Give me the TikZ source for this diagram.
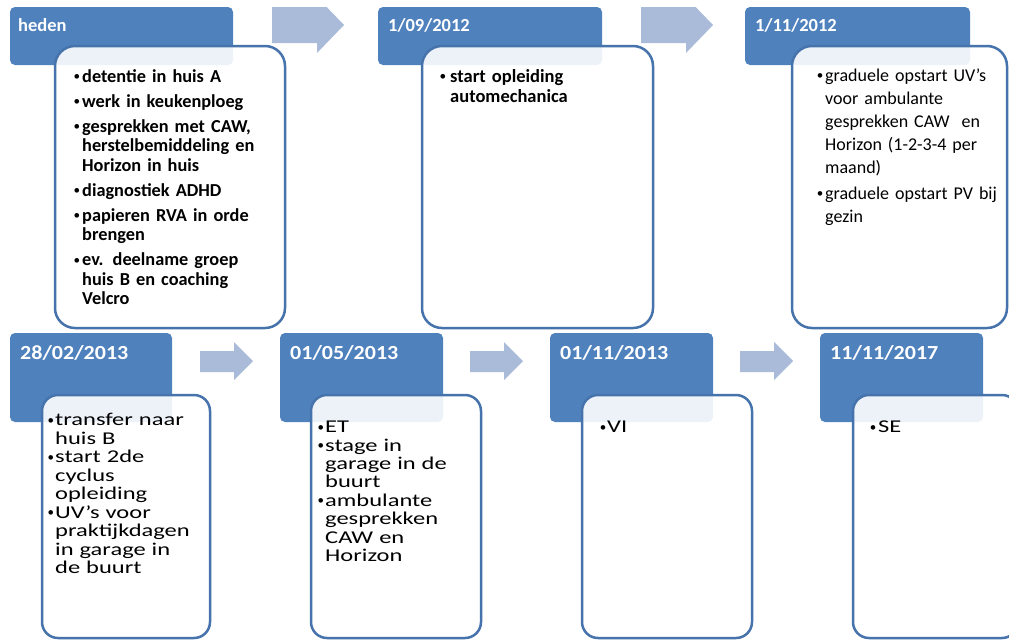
\documentclass[tikz,border=0pt]{standalone}
\usepackage{graphicx}
\usepackage{fontspec}
\setmainfont{Carlito}
\newfontfamily\wideB[FakeStretch=1.36]{Carlito}
\newfontfamily\wideH[FakeStretch=1.1]{Carlito}
\definecolor{hdr}{HTML}{4F81BD}
\definecolor{bdr}{HTML}{4673AB}
\definecolor{arr}{HTML}{A9BBD9}
\setlength\parskip{0pt}
\newlength\bgap
\newcommand\dotb{{\rmfamily\mdseries\raisebox{0.08em}{\scalebox{0.72}{•}}}}
\newcommand\bi{\par\noindent\llap{\dotb\hspace{\bgap}}\rule{0pt}{14pt}}
\begin{document}
\begin{tikzpicture}[x=1pt,y=-1pt,
  hdrbox/.style={fill=hdr, draw=none, rounded corners=5pt, inner sep=0pt},
  bodybox/.style={draw=bdr, line width=2.5pt, fill=white, fill opacity=0.9, draw opacity=1, inner sep=0pt},
  hdrtxt/.style={anchor=base west, inner sep=0pt, text=white},
  toptxt/.style={anchor=north west, inner sep=0pt, text width=230pt, align=left, text=black},
  blockarrow/.style={fill=arr, draw=none}]
\useasboundingbox (0,0) rectangle (1009,641);
\clip (0,0) rectangle (1009,641);
\fill[white] (0,0) rectangle (1009,641);

% ---------- top row ----------
\node[hdrbox, minimum width=223pt, minimum height=58pt] (h1) at (121.5,36) {};
\node[bodybox, rounded corners=20pt, minimum width=230pt, minimum height=282pt] (b1) at (170,187) {};
\node[hdrtxt, font=\fontsize{18.5}{20}\selectfont\bfseries] (h1t) at (18,31) {heden};
\node[toptxt, font=\fontsize{18.3}{19.5}\selectfont\bfseries] (t1) at (82,57)
 {\setlength\parskip{5.5pt}\setlength\bgap{2pt}%
  \bi detentie in huis A
  \bi werk in keukenploeg
  \bi gesprekken met CAW,\\ herstelbemiddeling en\\ Horizon in huis
  \bi diagnostiek ADHD
  \bi papieren RVA in orde\\ brengen
  \bi ev. deelname groep\\ huis B en coaching\\ Velcro};

\fill[blockarrow] (272,7) -- (326.6,7) -- (344,25) -- (317,53) -- (317,43) -- (272,43) -- cycle;

\node[hdrbox, minimum width=224pt, minimum height=58pt] (h2) at (490,36) {};
\node[bodybox, rounded corners=20pt, minimum width=231pt, minimum height=282pt] (b2) at (537.5,187) {};
\node[hdrtxt, font=\fontsize{18.5}{20}\selectfont\bfseries] (h2t) at (388,31) {1/09/2012};
\node[toptxt, font=\fontsize{18.5}{20}\selectfont\bfseries] (t2) at (450,62)
 {\setlength\bgap{4pt}%
  \bi start opleiding\\ automechanica};

\fill[blockarrow] (641,7) -- (695.6,7) -- (713,25) -- (686,53) -- (686,43) -- (641,43) -- cycle;

\node[hdrbox, minimum width=225pt, minimum height=58pt] (h3) at (857.5,36) {};
\node[bodybox, rounded corners=20pt, minimum width=215pt, minimum height=282pt] (b3) at (899.5,187) {};
\node[hdrtxt, font=\fontsize{18.5}{20}\selectfont\bfseries] (h3t) at (755,31) {1/11/2012};
\node[toptxt, font=\fontsize{18}{23}\selectfont] (t3) at (825,55)
 {\setlength\parskip{3pt}\setlength\bgap{2pt}%
  \bi graduele opstart UV’s\\ voor ambulante\\ gesprekken CAW\ \ en\\ Horizon (1-2-3-4 per\\ maand)
  \bi graduele opstart PV bij\\ gezin};

% ---------- bottom row ----------
\node[hdrbox, minimum width=162pt, minimum height=89pt] (h4) at (91,377.5) {};
\node[bodybox, rounded corners=16pt, minimum width=168pt, minimum height=243pt] (b4) at (126,516.5) {};
\node[hdrtxt, font=\wideH\fontsize{20}{22}\selectfont\bfseries] (h4t) at (20,359.5) {28/02/2013};
\node[toptxt, font=\wideB\fontsize{18}{18.5}\selectfont] (t4) at (55,407)
 {\setlength\bgap{1pt}%
  \bi transfer naar\\ huis B
  \bi start 2de\\ cyclus\\ opleiding
  \bi UV’s voor\\ praktijkdagen\\ in garage in\\ de buurt};

\fill[blockarrow] (200,351) -- (234,351) -- (234,342) -- (253,361) -- (234,380) -- (234,372) -- (200,372) -- cycle;

\node[hdrbox, minimum width=163pt, minimum height=89pt] (h5) at (361.5,377.5) {};
\node[bodybox, rounded corners=16pt, minimum width=170pt, minimum height=243pt] (b5) at (396,516.5) {};
\node[hdrtxt, font=\wideH\fontsize{20}{22}\selectfont\bfseries] (h5t) at (290,359.5) {01/05/2013};
\node[toptxt, font=\wideB\fontsize{18}{18.4}\selectfont] (t5) at (325,414)
 {\setlength\bgap{1pt}%
  \bi ET
  \bi stage in\\ garage in de\\ buurt
  \bi ambulante\\ gesprekken\\ CAW en\\ Horizon};

\fill[blockarrow] (470,351) -- (504,351) -- (504,342) -- (523,361) -- (504,380) -- (504,372) -- (470,372) -- cycle;

\node[hdrbox, minimum width=163pt, minimum height=89pt] (h6) at (631.5,377.5) {};
\node[bodybox, rounded corners=16pt, minimum width=170pt, minimum height=243pt] (b6) at (667,516.5) {};
\node[hdrtxt, font=\wideH\fontsize{20}{22}\selectfont\bfseries] (h6t) at (560,359.5) {01/11/2013};
\node[toptxt, font=\wideB\fontsize{18}{18.4}\selectfont] (t6) at (607,414)
 {\setlength\bgap{1pt}\bi VI};

\fill[blockarrow] (740,351) -- (774,351) -- (774,342) -- (793,361) -- (774,380) -- (774,372) -- (740,372) -- cycle;

\node[hdrbox, minimum width=163pt, minimum height=89pt] (h7) at (901.5,377.5) {};
\node[bodybox, rounded corners=16pt, minimum width=165pt, minimum height=243pt] (b7) at (935.5,516.5) {};
\node[hdrtxt, font=\wideH\fontsize{20}{22}\selectfont\bfseries] (h7t) at (830,359.5) {11/11/2017};
\node[toptxt, font=\wideB\fontsize{18}{18.4}\selectfont] (t7) at (878,414)
 {\setlength\bgap{2pt}\bi SE};
\end{tikzpicture}
\end{document}
